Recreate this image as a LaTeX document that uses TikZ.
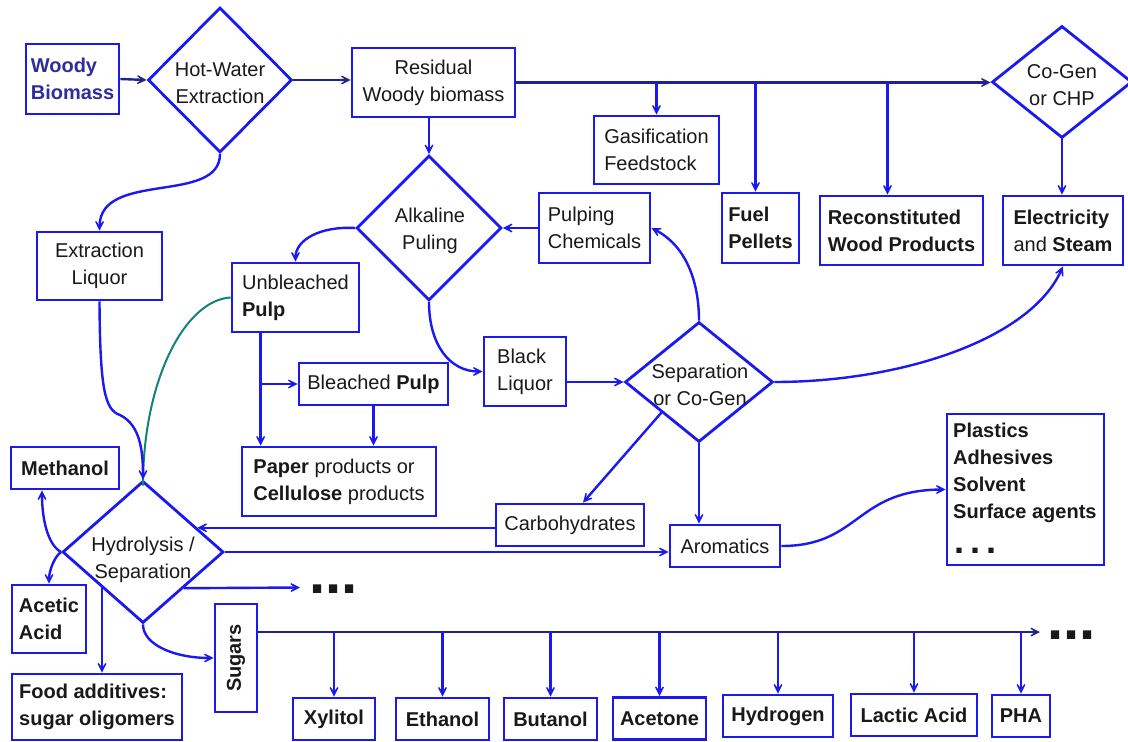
\documentclass[tikz,border=0pt]{standalone}
\usepackage{fontspec}
\setmainfont{Liberation Sans}
\usetikzlibrary{arrows.meta,shapes.geometric}
\definecolor{lineblue}{RGB}{25,25,240}
\definecolor{navy}{RGB}{35,35,140}
\definecolor{woodtext}{RGB}{45,45,155}
\definecolor{pulpteal}{RGB}{20,130,120}
\definecolor{ink}{RGB}{25,25,25}
\begin{document}
\begin{tikzpicture}[x=1pt,y=-1pt,
  txt/.style={font=\fontsize{20}{27}\selectfont, text=ink, inner sep=0pt},
  box/.style={txt, draw=lineblue, line width=2.8pt, rectangle, align=left},
  boxc/.style={box, align=center},
  bbox/.style={box, font=\fontsize{20}{27}\selectfont\bfseries},
  diam/.style n args={2}{draw=lineblue, line width=2.8pt, diamond, inner sep=0pt,
    minimum width=#1, minimum height=#2},
  dots/.style={txt, anchor=base west, font=\fontsize{58}{58}\selectfont\bfseries},
  tip/.style={-{Stealth[length=15pt,width=15pt,inset=10pt]}},
  arr/.style={draw=lineblue, line width=2.4pt, tip},
  navyarr/.style={draw=navy, line width=2.4pt, tip},
  tealline/.style={draw=pulpteal, line width=2pt}]

\fill[white] (0,0) rectangle (1128,742);
\useasboundingbox (0,0) rectangle (1128,742);

% ---------- upper part: extraction and residual biomass ----------
\node[box, minimum width=93pt, minimum height=70pt, text=woodtext,
      font=\fontsize{20}{27}\selectfont\bfseries] (woody) at (72.5,79) {Woody\\Biomass};
\node[diam={144pt}{145pt}] (hw) at (220,80) {};
\node[txt, align=center] (hwt) at (220,83) {Hot-Water\\Extraction};
\node[boxc, minimum width=163pt, minimum height=69pt] (res) at (433.5,82.5) {Residual\\Woody biomass};
\node[diam={140pt}{112pt}] (cogen) at (1062,82) {};
\node[txt, align=center] (cogent) at (1062,85) {Co-Gen\\or CHP};
\node[box, minimum width=125pt, minimum height=68pt] (gas) at (656.5,150) {Gasification\\Feedstock};
\node[bbox, minimum width=77pt, minimum height=70pt] (fuel) at (760.5,228) {Fuel\\Pellets};
\node[bbox, minimum width=163pt, minimum height=69pt] (recon) at (901.5,230.5) {Reconstituted\\Wood Products};
\node[box, minimum width=120pt, minimum height=69pt] (elec) at (1063,230.5) {\textbf{Electricity}\\and \textbf{Steam}};

% ---------- pulping ----------
\node[diam={145pt}{145pt}] (alk) at (429,228) {};
\node[txt, align=center] (alkt) at (430,231) {Alkaline\\Puling};
\node[box, minimum width=111pt, minimum height=70pt] (pchem) at (594.5,228) {Pulping\\Chemicals};
\node[boxc, minimum width=125pt, minimum height=68pt] (extr) at (99.5,266) {Extraction\\Liquor};
\node[box, minimum width=127pt, minimum height=69pt] (unbl) at (295.5,297.5) {Unbleached\\\textbf{Pulp}};
\node[box, minimum width=149pt, minimum height=42pt] (bleach) at (373.5,384) {Bleached \textbf{Pulp}};
\node[box, minimum width=194pt, minimum height=69pt] (paper) at (339,481.5) {\textbf{Paper} products or\\\textbf{Cellulose} products};
\node[box, minimum width=82pt, minimum height=69pt] (black) at (525,371.5) {Black\\Liquor};
\node[diam={148pt}{120pt}] (sep) at (699,382) {};
\node[txt, align=center] (sept) at (700,385) {Separation\\or Co-Gen};
\node[box, minimum width=148pt, minimum height=42pt] (carbo) at (570,525) {Carbohydrates};
\node[box, minimum width=110pt, minimum height=42pt] (arom) at (725,546) {Aromatics};

% lignin product box: list of uses plus an ellipsis row
\node[box, minimum width=157pt, minimum height=151pt] (plast) at (1025.5,489.5) {};
\node[txt, anchor=north west, align=left, font=\fontsize{20}{27}\selectfont\bfseries]
  (plastt) at (953,423) {Plastics\\Adhesives\\Solvent\\Surface agents};
\node[txt, anchor=base west, font=\fontsize{36}{36}\selectfont\bfseries]
  (more3) at (954,553) {.\kern6pt.\kern6pt.};

% ---------- hydrolysis and sugar platform ----------
\node[diam={161pt}{142pt}] (hyd) at (143,552) {};
\node[txt, align=center] (hydt) at (143,560) {Hydrolysis /\\Separation};
\node[bbox, minimum width=108pt, minimum height=42pt] (meth) at (65,468) {Methanol};
\node[bbox, minimum width=74pt, minimum height=68pt] (acet) at (49,619) {Acetic\\Acid};
\node[bbox, minimum width=170pt, minimum height=66pt] (food) at (97,707) {Food additives:\\sugar oligomers};
\node[bbox, rotate=90, minimum width=108pt, minimum height=42pt] (sug) at (236,658) {Sugars};
\node[dots] (more1) at (309,593) {...};
\node[dots] (more2) at (1047,639) {...};

\node[bbox, minimum width=82pt, minimum height=42pt] (xyl) at (334,719) {Xylitol};
\node[bbox, minimum width=93pt, minimum height=42pt] (eth) at (442.5,719) {Ethanol};
\node[bbox, minimum width=93pt, minimum height=42pt] (but) at (550.5,719) {Butanol};
\node[bbox, minimum width=93pt, minimum height=42pt] (acn) at (659.5,718.5) {Acetone};
\node[bbox, minimum width=110pt, minimum height=42pt] (hyg) at (778,716) {Hydrogen};
\node[bbox, minimum width=126pt, minimum height=42pt] (lac) at (914,715) {Lactic Acid};
\node[bbox, minimum width=58pt, minimum height=42pt] (pha) at (1021,716) {PHA};

% ---------- connectors ----------
\draw[navyarr] (woody.east) -- (hw.west);
\draw[navyarr] (hw.east) -- (hw.east -| res.west);
\draw[navyarr] (res.east) -- (res.east -| cogen.west);
\coordinate (fueltop) at ([xshift=-5pt]fuel.north);
\coordinate (recontop) at ([xshift=-14pt]recon.north);
\draw[arr] (gas.north |- res.east) -- (gas.north);
\draw[arr] (fueltop |- res.east) -- (fueltop);
\draw[arr] (recontop |- res.east) -- (recontop);
\draw[arr] (cogen.south) -- (cogen.south |- elec.north);

\draw[arr] (alk.north |- res.south) -- (alk.north);
\draw[arr] (pchem.west) -- (alk.east);
\draw[arr] (hw.south) .. controls (220,205) and (100,170) .. (extr.north);
\draw[arr] (alk.west) .. controls (320,226) and (295.5,240) .. (unbl.north);
\draw[arr] (alk.south) .. controls (429,345) and (450,371.5) .. (black.west);
\draw[arr] (black.east |- sep.west) -- (sep.west);
\draw[arr] (sep.north) .. controls (699,280) and (685,245) .. (pchem.east);
\draw[arr] (sep.east) .. controls (900,382) and (1030,340) .. (elec.south);
\coordinate (carbotop) at ([xshift=13pt]carbo.north);
\draw[arr] (sep.south west) -- (carbotop);
\draw[arr] (sep.south) -- (sep.south |- arom.north);
\draw[arr] (arom.east) .. controls (860,546) and (855,490) .. (plast.west);

\coordinate (pulpdrop) at ([xshift=30pt]unbl.south west);
\draw[arr] (pulpdrop) -- (pulpdrop |- paper.north);
\draw[arr] (pulpdrop |- bleach.west) -- (bleach.west);
\draw[arr] (bleach.south) -- (bleach.south |- paper.north);

\draw[tealline] (unbl.west) .. controls (185,300) and (143,380) .. ([yshift=-6pt]hyd.north);
\draw[arr] (extr.south) .. controls (100,390) and (105,410) .. (120,415)
  .. controls (140,425) and (143,450) .. (hyd.north);
\draw[arr] (carbo.west |- hyd.24) -- (hyd.24);
\draw[arr] (hyd.east) -- (hyd.east -| arom.west);
\coordinate (more1end) at (300,587.5);
\draw[arr] (hyd.south east) -- (more1end);
\draw[arr] (hyd.south) .. controls (143,645) and (175,658) .. (sug.north);
\draw[arr] (hyd.south west) -- (hyd.south west |- food.north);
\coordinate (methfoot) at ([xshift=-23pt]meth.south);
\draw[arr] (hyd.west) .. controls (48,545) and (42,520) .. (methfoot);
\draw[arr] (hyd.west) .. controls (55,556) and (49,570) .. (acet.north);

\coordinate (bus) at ([yshift=26pt]sug.south);
\coordinate (busend) at (1040,632);
\draw[navyarr] (bus) -- (busend);
\foreach \n in {xyl,eth,but,acn,hyg,lac,pha}
  \draw[arr] (\n.north |- bus) -- (\n.north);
\end{tikzpicture}
\end{document}
